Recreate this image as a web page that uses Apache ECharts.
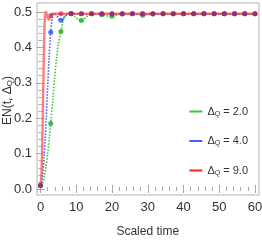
<!DOCTYPE html>
<html><head><meta charset="utf-8">
<script src="https://cdn.jsdelivr.net/npm/echarts@6/dist/echarts.min.js"></script>
<style>html,body{margin:0;padding:0;background:#fff}#c{width:262px;height:240px}</style>
</head><body><div id="c"></div>
<script>
// ---- data ----
const xTicks = [0, 10, 20, 30, 40, 50, 60];
const yTicks = [0.0, 0.1, 0.2, 0.3, 0.4, 0.5];
const seriesNames = ['ΔQ = 2.0', 'ΔQ = 4.0', 'ΔQ = 9.0'];

// dense curves (time, EN)
const tGreen = [0, 0.5, 1.0, 1.5, 2.0, 2.5, 2.86, 3.5, 4.0, 4.5, 5.0, 5.71, 6.3, 7.0, 7.7, 8.57, 9.5, 10.5, 11.43, 12.5, 13.5, 14.29, 16, 18, 20, 22, 25.71, 28.57, 31.43, 35, 40, 45, 50, 55, 60];
const vGreen = [0.01, 0.015, 0.03, 0.06, 0.10, 0.145, 0.185, 0.26, 0.32, 0.37, 0.41, 0.445, 0.475, 0.490, 0.496, 0.495, 0.488, 0.479, 0.476, 0.483, 0.491, 0.495, 0.494, 0.490, 0.488, 0.493, 0.495, 0.491, 0.494, 0.495, 0.495, 0.494, 0.495, 0.495, 0.495];

const tBlue = [0, 0.5, 1.0, 1.3, 1.6, 2.0, 2.4, 2.86, 3.3, 3.9, 4.6, 5.2, 5.71, 6.6, 7.6, 8.57, 10, 12, 15, 20, 30, 40, 50, 60];
const vBlue = [0.01, 0.03, 0.09, 0.14, 0.20, 0.29, 0.37, 0.443, 0.482, 0.496, 0.489, 0.480, 0.477, 0.485, 0.494, 0.496, 0.495, 0.495, 0.495, 0.495, 0.495, 0.495, 0.495, 0.495];

const tRed = [0, 0.2, 0.4, 0.6, 0.8, 1.0, 1.2, 1.45, 1.7, 2.0, 2.3, 2.6, 3.0, 3.5, 4.5, 6, 8, 10, 15, 20, 30, 40, 50, 60];
const vRed = [0.01, 0.03, 0.09, 0.18, 0.30, 0.41, 0.48, 0.502, 0.496, 0.484, 0.478, 0.481, 0.490, 0.496, 0.495, 0.495, 0.495, 0.495, 0.495, 0.495, 0.495, 0.495, 0.495, 0.495];

// sampled markers
const tMark = [0, 2.86, 5.71, 8.57, 11.43, 14.29, 17.14, 20, 22.86, 25.71, 28.57, 31.43, 34.29, 37.14, 40, 42.86, 45.71, 48.57, 51.43, 54.29, 57.14, 60];
const mGreen = [0.01, 0.185, 0.445, 0.495, 0.476, 0.495, 0.492, 0.488, 0.494, 0.495, 0.491, 0.494, 0.495, 0.495, 0.495, 0.495, 0.495, 0.495, 0.495, 0.495, 0.495, 0.495];
const mBlue = [0.01, 0.443, 0.477, 0.496, 0.495, 0.495, 0.495, 0.495, 0.495, 0.495, 0.495, 0.495, 0.495, 0.495, 0.495, 0.495, 0.495, 0.495, 0.495, 0.495, 0.495, 0.495];
const mRed = [0.01, 0.490, 0.495, 0.495, 0.495, 0.495, 0.495, 0.495, 0.495, 0.495, 0.495, 0.495, 0.495, 0.495, 0.495, 0.495, 0.495, 0.495, 0.495, 0.495, 0.495, 0.495];

const pairs = (t, v) => t.map((x, i) => [x, v[i]]);

const FONT = '"Liberation Sans Narrow", "Liberation Sans", Arial, sans-serif';
const tickC = '#a8a8a8';
const labC = '#333';

const chart = echarts.init(document.getElementById('c'), null, {renderer: 'canvas'});
const dataX = {min: xTicks[0], max: xTicks[xTicks.length - 1], interval: 10};
const dataY = {min: yTicks[0], max: yTicks[yTicks.length - 1], interval: 0.1};

chart.setOption({
  animation: false,
  grid: [
    {left: 40.5, right: 7, top: 12, bottom: 51, containLabel: false, outerBoundsMode: 'none'},
    {left: 37, right: 3, top: 3, bottom: 45, containLabel: false, outerBoundsMode: 'none',
     show: true, borderColor: '#b4b4b4', borderWidth: 1, backgroundColor: 'transparent'}
  ],
  xAxis: [
    Object.assign({type: 'value', gridIndex: 0, position: 'bottom', offset: 6,
      axisLine: {show: false}, splitLine: {show: false},
      axisTick: {show: true, inside: true, length: 4, lineStyle: {color: tickC}},
      minorTick: {show: true, splitNumber: 5, length: 2, lineStyle: {color: tickC}},
      axisLabel: {color: labC, fontFamily: FONT, fontSize: 13, margin: 6, formatter: v => String(v)},
      name: 'Scaled time', nameLocation: 'middle', nameGap: 31, nameMoveOverlap: false,
      nameTextStyle: {color: labC, fontFamily: FONT, fontSize: 12}}, dataX),
    Object.assign({type: 'value', gridIndex: 0, position: 'top', offset: 9,
      axisLine: {show: false}, splitLine: {show: false}, axisLabel: {show: false},
      axisTick: {show: true, inside: true, length: 4, lineStyle: {color: tickC}},
      minorTick: {show: true, splitNumber: 5, length: 2, lineStyle: {color: tickC}}}, dataX),
    {type: 'value', gridIndex: 1, show: false, min: 0, max: 1}
  ],
  yAxis: [
    Object.assign({type: 'value', gridIndex: 0, position: 'left', offset: 3.5,
      axisLine: {show: false}, splitLine: {show: false},
      axisTick: {show: true, inside: true, length: 4, lineStyle: {color: tickC}},
      minorTick: {show: true, splitNumber: 5, length: 2, lineStyle: {color: tickC}},
      axisLabel: {color: labC, fontFamily: FONT, fontSize: 13, margin: 5, formatter: v => v.toFixed(1)},
      name: '{a|EN(t, Δ}{s|Q}{a|)}', nameLocation: 'middle', nameGap: 23, nameMoveOverlap: false,
      nameTextStyle: {color: labC, fontFamily: FONT, fontSize: 12,
        rich: {a: {fontFamily: FONT, fontSize: 12, color: labC},
               s: {fontFamily: FONT, fontSize: 8, color: labC, padding: [5, 0, 0, 0]}}}}, dataY),
    Object.assign({type: 'value', gridIndex: 0, position: 'right', offset: 4,
      axisLine: {show: false}, splitLine: {show: false}, axisLabel: {show: false},
      axisTick: {show: true, inside: true, length: 4, lineStyle: {color: tickC}},
      minorTick: {show: true, splitNumber: 5, length: 2, lineStyle: {color: tickC}}}, dataY),
    {type: 'value', gridIndex: 1, show: false, min: 0, max: 1}
  ],
  legend: {
    orient: 'vertical', right: 9, top: 101, itemGap: 18, itemWidth: 13, itemHeight: 2, icon: 'rect',
    data: seriesNames,
    formatter: n => '{d|Δ}{s|Q}{d| ' + n.split(' ').slice(1).join(' ') + '}',
    textStyle: {color: labC, fontFamily: FONT, fontSize: 11,
      rich: {d: {fontFamily: FONT, fontSize: 11, color: labC},
             s: {fontFamily: FONT, fontSize: 7, color: labC, padding: [5, 0, 0, 0]}}}
  },
  series: [
    {name: seriesNames[0], type: 'line', data: pairs(tGreen, vGreen), smooth: 0.3, showSymbol: false,
     color: '#33cc33', lineStyle: {color: '#33cc33', width: 1.6, type: [1.5, 1.5]}, z: 2},
    {name: seriesNames[1], type: 'line', data: pairs(tBlue, vBlue), smooth: 0.3, showSymbol: false,
     color: '#4060ff', lineStyle: {color: '#4060ff', width: 1.6, type: [1.5, 1.5]}, z: 3},
    {name: seriesNames[2], type: 'line', data: pairs(tRed, vRed), smooth: 0.3, showSymbol: false,
     color: '#ff2020', lineStyle: {color: 'rgba(255,70,70,0.7)', width: 2.4}, z: 4},
    {type: 'scatter', data: pairs(tMark, mGreen), symbolSize: 5, itemStyle: {color: '#1fa81f'}, z: 5},
    {type: 'scatter', data: pairs(tMark, mBlue), symbolSize: 5, itemStyle: {color: '#3050f0'}, z: 6},
    {type: 'scatter', data: pairs(tMark, mRed), symbolSize: 5, itemStyle: {color: 'rgba(200,20,70,0.8)'}, z: 7}
  ]
});
</script></body></html>
